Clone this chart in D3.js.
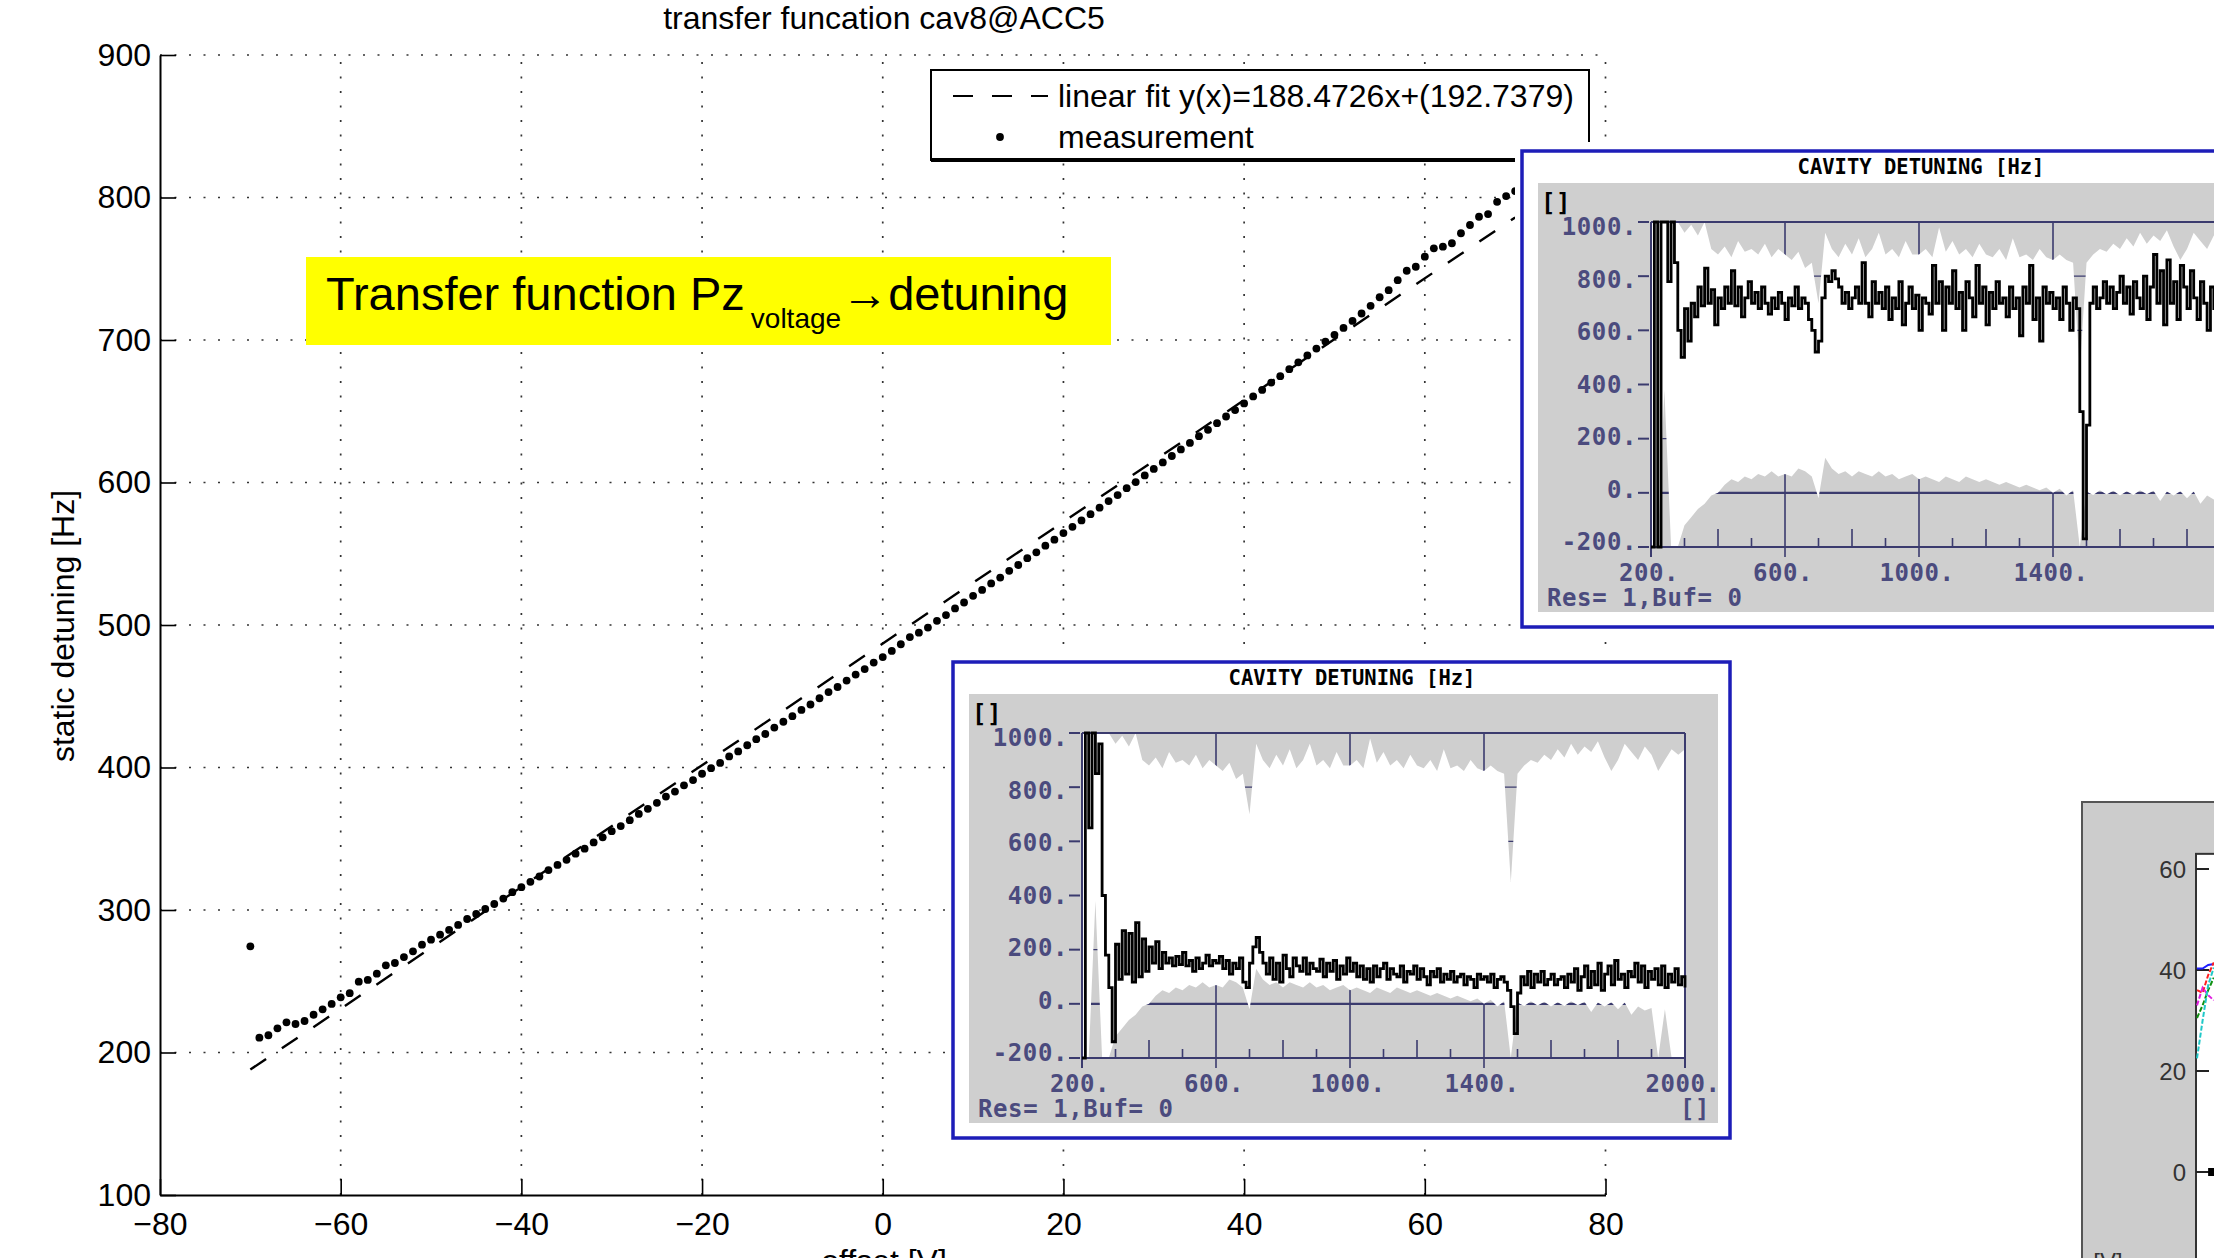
<!DOCTYPE html>
<html>
<head>
<meta charset="utf-8">
<script src="https://cdn.jsdelivr.net/npm/d3@7"></script>
<style>
  html, body { margin: 0; padding: 0; background: #fff; }
  svg { display: block; }
</style>
</head>
<body>
<div class="chart"></div>
<script>
// ---- main plot ----
const chartTitle = 'transfer funcation cav8@ACC5';
const xLabel = 'offset [V]';
const yLabel = 'static detuning [Hz]';
const xTicks = [-80, -60, -40, -20, 0, 20, 40, 60, 80];
const yTicks = [100, 200, 300, 400, 500, 600, 700, 800, 900];
const legendLabels = ['linear fit y(x)=188.4726x+(192.7379)', 'measurement'];

const fitOffset = [-70, 70];
const fitDetuning = [188, 786];

const measOffset = [
  -70, -69, -68, -67, -66, -65, -64, -63, -62, -61,
  -60, -59, -58, -57, -56, -55, -54, -53, -52, -51,
  -50, -49, -48, -47, -46, -45, -44, -43, -42, -41,
  -40, -39, -38, -37, -36, -35, -34, -33, -32, -31,
  -30, -29, -28, -27, -26, -25, -24, -23, -22, -21,
  -20, -19, -18, -17, -16, -15, -14, -13, -12, -11,
  -10, -9, -8, -7, -6, -5, -4, -3, -2, -1,
  0, 1, 2, 3, 4, 5, 6, 7, 8, 9,
  10, 11, 12, 13, 14, 15, 16, 17, 18, 19,
  20, 21, 22, 23, 24, 25, 26, 27, 28, 29,
  30, 31, 32, 33, 34, 35, 36, 37, 38, 39,
  40, 41, 42, 43, 44, 45, 46, 47, 48, 49,
  50, 51, 52, 53, 54, 55, 56, 57, 58, 59,
  60, 61, 62, 63, 64, 65, 66, 67, 68, 69,
  70
];
const measDetuning = [
  274.5, 210.4, 212.1, 217.0, 221.2, 220.0, 222.1, 226.5, 230.3, 234.1,
  238.7, 241.6, 249.7, 250.9, 255.3, 261.2, 262.8, 267.0, 271.0, 275.7,
  279.2, 282.7, 286.0, 289.5, 293.7, 297.2, 300.7, 304.2, 308.0, 312.5,
  316.0, 319.8, 323.5, 328.0, 331.6, 335.2, 339.5, 343.0, 347.4, 351.0,
  355.3, 358.9, 363.0, 367.4, 371.0, 375.2, 379.6, 383.1, 387.5, 391.2,
  395.6, 399.5, 403.2, 407.8, 411.3, 415.6, 419.9, 423.5, 428.0, 432.1,
  436.0, 440.4, 444.2, 448.6, 452.9, 456.5, 461.0, 465.2, 469.1, 473.6,
  477.5, 481.8, 486.5, 491.5, 494.6, 498.2, 502.9, 507.0, 511.6, 515.8,
  520.5, 524.6, 529.2, 533.3, 538.0, 542.1, 546.9, 551.0, 555.7, 559.9,
  564.5, 568.9, 573.4, 577.8, 582.3, 587.0, 591.2, 596.0, 600.3, 605.0,
  609.5, 614.1, 618.6, 623.2, 627.8, 632.5, 637.0, 641.6, 646.3, 650.8,
  655.5, 660.4, 665.0, 670.1, 674.6, 679.5, 684.3, 689.2, 694.0, 698.9,
  703.6, 708.5, 713.4, 718.6, 724.0, 730.0, 735.0, 742.0, 748.6, 751.4,
  758.5, 764.3, 765.5, 767.9, 774.9, 780.7, 786.5, 788.4, 797.0, 801.0,
  804.5
];

const noteMain = 'Transfer function Pz';
const noteSub = 'voltage';
const noteTail = '\u2192detuning';

// ---- scope insets (cavity detuning screenshots) ----
const insetTitle = 'CAVITY DETUNING [Hz]';
const insetFooter = 'Res= 1,Buf= 0';
const insetXTicks = [200, 600, 1000, 1400, 2000];
const insetGridX = [600, 1000, 1400];
const insetMinorShort = [300, 500, 700, 900, 1100, 1300, 1500, 1700, 1900];
const insetMinorTall = [400, 800, 1200, 1600, 1800];
const insetYTicks = [-200, 0, 200, 400, 600, 800, 1000];
const envStep = 20;   // envelope sample spacing (samples)
const traceStep = 10; // trace sample spacing (samples)

// min / max persistence envelope (shared by both screenshots), 200..2000 every 20
const envMax = [
  1000, 1000, 1000, 1000, 1000, 960, 990, 950, 1000, 900,
  880, 910, 870, 930, 890, 900, 880, 920, 870, 900,
  880, 860, 890, 830, 850, 700, 960, 900, 870, 920,
  880, 940, 870, 900, 960, 880, 900, 870, 930, 880,
  880, 900, 870, 980, 890, 930, 880, 900, 870, 920,
  880, 870, 900, 860, 940, 870, 880, 860, 900, 870,
  860, 880, 860, 850, 450, 850, 880, 900, 890, 920,
  900, 940, 910, 960, 920, 950, 930, 970, 910, 860,
  900, 960, 930, 900, 950, 920, 860, 900, 940, 920,
  940
];
const envMin = [
  -200, -200, 380, -200, -200, -120, -90, -60, -40, -10,
  0, 30, 50, 40, 60, 50, 70, 60, 80, 60,
  70, 60, 90, 80, 60, -20, 130, 90, 70, 80,
  60, 80, 70, 60, 80, 60, 70, 50, 60, 70,
  50, 60, 50, 40, 60, 50, 40, 60, 50, 40,
  50, 40, 30, 40, 30, 20, 30, 20, 10, 20,
  0, 15, -10, 10, -200, 5, -8, 10, -6, 8,
  -10, 6, -8, 10, -5, 8, -30, 5, -10, 6,
  -20, 5, -40, -10, -25, -15, -200, -20, -200, -200,
  -200
];

// current trace, upper screenshot, 200..2000 every 10
const traceUpper = [
  -200, 1000, -200, 1000, 1000, 780, 1000, 850, 600, 500,
  680, 560, 700, 650, 760, 690, 830, 700, 750, 620,
  720, 680, 760, 700, 820, 690, 760, 650, 720, 780,
  700, 740, 680, 760, 700, 660, 720, 680, 740, 700,
  640, 720, 690, 760, 680, 720, 700, 640, 600, 520,
  560, 720, 800, 780, 820, 790, 760, 700, 740, 680,
  720, 760, 700, 850, 700, 650, 780, 700, 740, 680,
  760, 640, 720, 680, 780, 620, 700, 760, 680, 730,
  600, 720, 700, 660, 840, 700, 780, 600, 760, 700,
  820, 680, 740, 600, 780, 720, 650, 840, 700, 760,
  620, 740, 680, 780, 700, 720, 650, 760, 680, 720,
  580, 760, 700, 840, 640, 720, 560, 760, 700, 740,
  680, 720, 640, 760, 700, 600, 720, 680, 300, -170,
  250, 700, 760, 680, 720, 780, 700, 760, 680, 740,
  800, 700, 760, 660, 780, 720, 680, 800, 640, 760,
  880, 700, 820, 620, 860, 700, 780, 640, 840, 760,
  680, 820, 720, 640, 780, 700, 600, 760, 680, 820,
  720, 640, 780, 700, 760, 680, 800, 720, 660, 760,
  700
];

// current trace, lower screenshot, 200..2000 every 10
const traceLower = [
  -200, 1000, 650, 1000, 850, 960, 400, 180, 60, -140,
  220, 90, 270, 110, 260, 80, 300, 100, 240, 120,
  210, 150, 230, 130, 190, 150, 170, 140, 175, 145,
  190, 140, 160, 120, 170, 130, 150, 180, 140, 160,
  150, 175, 130, 160, 110, 150, 130, 170, 80, 60,
  150, 210, 245, 190, 150, 110, 170, 90, 150, 80,
  180, 130, 100, 170, 140, 120, 170, 110, 150, 130,
  120, 165, 100, 150, 120, 160, 90, 140, 110, 170,
  120, 150, 100, 140, 90, 130, 80, 140, 100, 130,
  150, 90, 130, 110, 100, 140, 80, 120, 110, 140,
  90, 130, 100, 70, 120, 100, 130, 80, 110, 90,
  120, 80, 100, 110, 70, 100, 90, 60, 110, 90,
  100, 80, 110, 60, 90, 100, 80, 50, -10, -110,
  40, 100, 70, 120, 60, 110, 80, 120, 70, 90,
  110, 70, 90, 100, 60, 110, 80, 130, 50, 100,
  140, 60, 120, 70, 150, 50, 110, 140, 70, 160,
  90, 110, 60, 120, 100, 150, 80, 140, 60, 120,
  90, 130, 70, 140, 60, 110, 80, 130, 70, 100,
  60
];

// ---- partial third screenshot at bottom right ----
const scopeTicks = [0, 20, 40, 60];
const scopeLabel = '[V]';
const scopeSeries = [
  [40.3, 40.3, 41.0, 41.2],
  [36.0, 35.5, 39.0, 41.5],
  [33.0, 36.5, 35.0, 34.0],
  [30.5, 33.0, 36.0, 38.5],
  [22.5, 30.0, 37.0, 40.5]
];
const scopeColors = ['#1f1fff', '#ff1f1f', '#e020e0', '#109010', '#20c8c8'];
const scopeMarker = [2.7, 0];

// =====================================================================
const W = 2214, H = 1258;
const FONT = '"Liberation Sans", Arial, Helvetica, sans-serif';
const MONO = '"DejaVu Sans Mono", "Liberation Mono", monospace';

const svg = d3.select('.chart').append('svg')
  .attr('width', W)
  .attr('height', H)
  .style('background-color', 'white');

const x = d3.scaleLinear().domain([-80, 80]).range([160, 1605.5]);
const y = d3.scaleLinear().domain([100, 900]).range([1195, 55]);

// dotted grid
const grid = svg.append('g')
  .attr('stroke', '#333')
  .attr('stroke-width', 1.7)
  .attr('stroke-dasharray', '2,12.5');
grid.selectAll('.gx').data(xTicks.slice(1)).enter().append('line')
  .attr('x1', d => x(d)).attr('x2', d => x(d))
  .attr('y1', y(100)).attr('y2', y(900));
grid.selectAll('.gy').data(yTicks.slice(1)).enter().append('line')
  .attr('y1', d => y(d)).attr('y2', d => y(d))
  .attr('x1', x(-80)).attr('x2', x(80));

// axes
const xAxis = svg.append('g')
  .attr('transform', `translate(0, ${y(100)})`)
  .call(d3.axisBottom(x).tickValues(xTicks).tickSize(-16).tickSizeOuter(0).tickPadding(17));
const yAxis = svg.append('g')
  .attr('transform', `translate(${x(-80)}, 0)`)
  .call(d3.axisLeft(y).tickValues(yTicks).tickSize(-16).tickSizeOuter(0).tickPadding(9));
[xAxis, yAxis].forEach(a => {
  a.attr('font-family', null).attr('font-size', null).style('color', '#000');
  a.select('.domain').attr('stroke-width', 2);
  a.selectAll('.tick line').attr('stroke-width', 1.6);
  a.selectAll('text').style('font-family', FONT).style('font-size', '32px');
});

// titles
svg.append('text')
  .attr('x', 884).attr('y', 29)
  .attr('text-anchor', 'middle')
  .style('font-family', FONT).style('font-size', '32px')
  .text(chartTitle);
svg.append('text')
  .attr('x', 884).attr('y', 1272)
  .attr('text-anchor', 'middle')
  .style('font-family', FONT).style('font-size', '32px')
  .text(xLabel);
svg.append('text')
  .attr('transform', 'translate(74, 626) rotate(-90)')
  .attr('text-anchor', 'middle')
  .style('font-family', FONT).style('font-size', '32px')
  .text(yLabel);

// linear fit (dashed)
const line = d3.line()
  .x(d => x(d[0]))
  .y(d => y(d[1]));
svg.append('path')
  .datum(d3.zip(fitOffset, fitDetuning))
  .attr('d', line)
  .style('stroke', '#000')
  .style('stroke-width', 2.4)
  .style('stroke-dasharray', '19,19')
  .style('fill', 'none');

// measurement dots
svg.selectAll('.meas')
  .data(d3.zip(measOffset, measDetuning))
  .enter()
  .append('circle')
  .attr('class', 'meas')
  .attr('cx', d => x(d[0]))
  .attr('cy', d => y(d[1]))
  .attr('r', 3.9)
  .style('fill', '#000');

// legend
const legend = svg.append('g');
legend.append('rect')
  .attr('x', 931).attr('y', 70).attr('width', 658).attr('height', 90)
  .style('fill', '#fff').style('stroke', '#000').style('stroke-width', 2);
legend.append('line')
  .attr('x1', 931).attr('x2', 1589).attr('y1', 160).attr('y2', 160)
  .style('stroke', '#000').style('stroke-width', 4);
legend.append('line')
  .attr('x1', 953).attr('x2', 1048).attr('y1', 96).attr('y2', 96)
  .style('stroke', '#000').style('stroke-width', 2.2).style('stroke-dasharray', '20,19');
legend.append('circle')
  .attr('cx', 1000).attr('cy', 137).attr('r', 3.9).style('fill', '#000');
legend.selectAll('.lt').data(legendLabels).enter().append('text')
  .attr('x', 1058)
  .attr('y', (d, i) => 107 + i * 41)
  .style('font-family', FONT).style('font-size', '32px')
  .text(d => d);

// yellow annotation
const note = svg.append('g');
note.append('rect')
  .attr('x', 306).attr('y', 257).attr('width', 805).attr('height', 88)
  .style('fill', '#ffff00');
const noteText = note.append('text')
  .attr('x', 326).attr('y', 310)
  .style('font-family', FONT).style('font-size', '47px');
noteText.append('tspan').text(noteMain);
noteText.append('tspan').attr('dx', 6).attr('dy', 18).style('font-size', '28px').text(noteSub);
noteText.append('tspan').attr('dy', -18).style('font-size', '47px').text(noteTail);

// ---- scope screenshot drawn with its own scales ----
function drawInset(ox, oy, trace) {
  const g = svg.append('g').attr('transform', `translate(${ox}, ${oy})`);
  const NAVY = '#3b3b6e';
  const LABEL = '#4b4b7e';

  g.append('rect').attr('x', -7).attr('y', -9).attr('width', 791).attr('height', 494).style('fill', '#fff');
  g.append('rect').attr('x', 0).attr('y', 0).attr('width', 777).attr('height', 476)
    .style('fill', 'none').style('stroke', '#1d1db8').style('stroke-width', 3.5);
  g.append('text')
    .attr('x', 399).attr('y', 23).attr('text-anchor', 'middle')
    .style('font-family', MONO).style('font-weight', 'bold').style('font-size', '20.5px')
    .text(insetTitle);
  g.append('rect').attr('x', 16).attr('y', 32).attr('width', 749).attr('height', 429).style('fill', '#cfcfcf');

  const sx = d3.scaleLinear().domain([200, 2000]).range([129, 732]);
  const sy = d3.scaleLinear().domain([-200, 1000]).range([396, 71]);

  // grid under the persistence band
  const under = g.append('g').style('stroke', NAVY).style('stroke-width', 1.6);
  under.selectAll('.h').data(insetYTicks.filter(d => d > -200 && d < 1000)).enter().append('line')
    .attr('x1', sx(200)).attr('x2', sx(2000))
    .attr('y1', d => sy(d)).attr('y2', d => sy(d))
    .style('stroke-width', d => d === 0 ? 2.2 : 1.4);
  under.selectAll('.v').data(insetGridX).enter().append('line')
    .attr('x1', d => sx(d)).attr('x2', d => sx(d))
    .attr('y1', sy(1000)).attr('y2', sy(-200) + 10);
  under.selectAll('.ms').data(insetMinorShort).enter().append('line')
    .attr('x1', d => sx(d)).attr('x2', d => sx(d))
    .attr('y1', sy(-200)).attr('y2', sy(-200) - 9);
  under.selectAll('.mt').data(insetMinorTall).enter().append('line')
    .attr('x1', d => sx(d)).attr('x2', d => sx(d))
    .attr('y1', sy(-200)).attr('y2', sy(-200) - 18);

  // min/max band
  const band = d3.area()
    .x((d, i) => sx(200 + i * envStep))
    .y0((d, i) => sy(envMin[i]))
    .y1(d => sy(d));
  g.append('path').datum(envMax).attr('d', band).style('fill', '#fff');

  // frame
  const frame = g.append('g').style('stroke', NAVY).style('stroke-width', 2);
  frame.append('line').attr('x1', sx(200)).attr('x2', sx(2000)).attr('y1', sy(1000)).attr('y2', sy(1000));
  frame.append('line').attr('x1', sx(200)).attr('x2', sx(2000)).attr('y1', sy(-200)).attr('y2', sy(-200));
  frame.append('line').attr('x1', sx(200)).attr('x2', sx(200)).attr('y1', sy(1000)).attr('y2', sy(-200) + 10);
  frame.append('line').attr('x1', sx(2000)).attr('x2', sx(2000)).attr('y1', sy(1000)).attr('y2', sy(-200) + 10);
  frame.selectAll('.yt').data(insetYTicks).enter().append('line')
    .attr('x1', sx(200) - 13).attr('x2', sx(200) - 2)
    .attr('y1', d => sy(d)).attr('y2', d => sy(d));

  // current trace
  const traceLine = d3.line()
    .x((d, i) => sx(200 + i * traceStep))
    .y(d => sy(d))
    .curve(d3.curveStepAfter);
  g.append('path').datum(trace).attr('d', traceLine)
    .style('fill', 'none').style('stroke', '#000').style('stroke-width', 2.8)
    .style('stroke-linejoin', 'miter');

  // labels (the screen font packs its labels a little tighter than the ticks)
  const lab = g.append('g')
    .style('font-family', MONO).style('font-weight', 'bold')
    .style('font-size', '24px').style('letter-spacing', '0.6px').style('fill', LABEL);
  lab.selectAll('.yl').data(insetYTicks).enter().append('text')
    .attr('x', sx(200) - 14).attr('y', d => sy(d) + 8 + (d - 400) / 120)
    .attr('text-anchor', 'end')
    .text(d => d + '.');
  lab.selectAll('.xl').data(insetXTicks).enter().append('text')
    .attr('x', d => sx(d) - 2).attr('y', 430)
    .attr('text-anchor', 'middle')
    .text(d => d + '.');
  lab.append('text').attr('x', 25).attr('y', 455).text(insetFooter);
  if (ox + 760 < W) {
    lab.append('text').attr('x', 727).attr('y', 455).text('[]');
  }
  lab.append('text').attr('x', 19).attr('y', 60).style('fill', '#000').text('[]');
}

drawInset(1522, 151, traceUpper);
drawInset(953, 662, traceLower);

// ---- third screenshot, mostly outside the frame ----
const scope = svg.append('g');
const px = d3.scaleLinear().domain([0, 10]).range([2197, 2253]);
const py = d3.scaleLinear().domain([0, 60]).range([1172, 869]);
scope.append('rect')
  .attr('x', 2082).attr('y', 802).attr('width', 200).attr('height', 520)
  .style('fill', '#cccccc').style('stroke', '#555').style('stroke-width', 2);
scope.append('rect')
  .attr('x', 2196).attr('y', py(63)).attr('width', 100).attr('height', 500)
  .style('fill', '#fff').style('stroke', '#333').style('stroke-width', 2);
scope.selectAll('.st').data(scopeTicks).enter().append('line')
  .attr('x1', 2196).attr('x2', 2209)
  .attr('y1', d => py(d)).attr('y2', d => py(d))
  .style('stroke', '#222').style('stroke-width', 2);
scope.selectAll('.sl').data(scopeTicks).enter().append('text')
  .attr('x', 2186).attr('y', d => py(d) + 9)
  .attr('text-anchor', 'end')
  .style('font-family', FONT).style('font-size', '24px').style('fill', '#333')
  .text(d => d);
const scopeLine = d3.line().x((d, i) => px(i)).y(d => py(d));
scope.selectAll('.ss').data(scopeSeries).enter().append('path')
  .attr('d', scopeLine)
  .style('fill', 'none')
  .style('stroke', (d, i) => scopeColors[i])
  .style('stroke-width', 2)
  .style('stroke-dasharray', (d, i) => i === 0 ? null : '5,2');
scope.append('rect')
  .attr('x', px(scopeMarker[0]) - 4).attr('y', py(scopeMarker[1]) - 4)
  .attr('width', 8).attr('height', 8)
  .style('fill', '#000');
scope.append('text')
  .attr('x', 2108).attr('y', 1270)
  .attr('text-anchor', 'middle')
  .style('font-family', FONT).style('font-size', '24px').style('fill', '#333')
  .text(scopeLabel);
</script>
</body>
</html>
